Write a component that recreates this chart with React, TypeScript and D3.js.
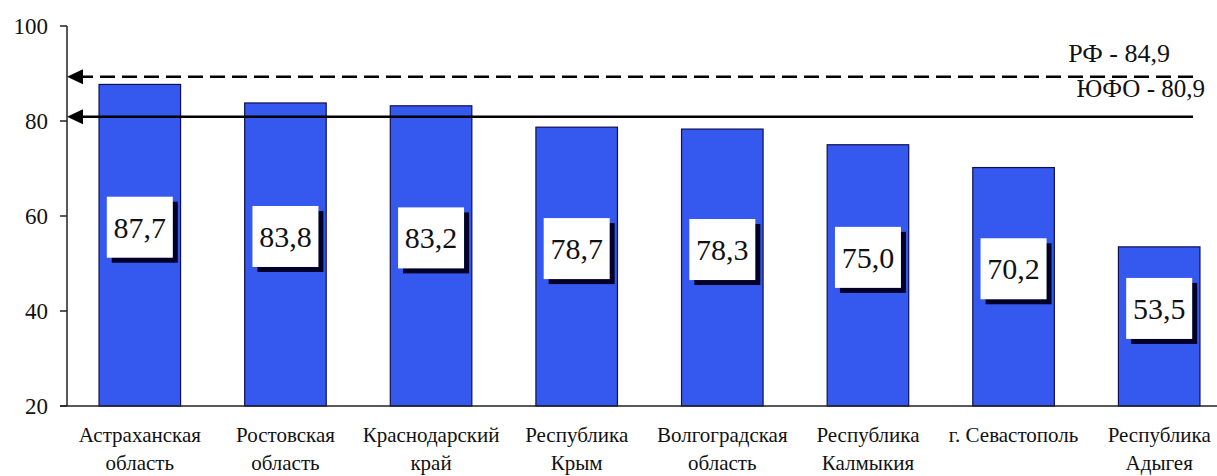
import * as d3 from "d3";

// регионы ЮФО
const regions = [
  ["Астраханская", "область"],
  ["Ростовская", "область"],
  ["Краснодарский", "край"],
  ["Республика", "Крым"],
  ["Волгоградская", "область"],
  ["Республика", "Калмыкия"],
  ["г. Севастополь", ""],
  ["Республика", "Адыгея"],
];
const values = [87.7, 83.8, 83.2, 78.7, 78.3, 75.0, 70.2, 53.5];
const yTicks = [20, 40, 60, 80, 100];

// опорные линии: подпись и уровень, на котором линия нарисована
const refNames = ["РФ", "ЮФО"];
const refValues = [84.9, 80.9];
const refLevels = [89.3, 80.9];

const W = 1217;
const H = 476;
const FONT = "'Liberation Serif', 'DejaVu Serif', 'Times New Roman', Times, serif";

const App = () => {
  const keys = regions.map((r) => r.join(" "));
  const x = d3.scaleBand<string>().domain(keys).range([67, 1232]).paddingInner(0.44).paddingOuter(0.22);
  const y = d3.scaleLinear().domain([20, 100]).range([406, 26]);
  const fmt = (v: number) => v.toFixed(1).replace(".", ",");

  const boxW = 66;
  const boxH = 61;

  return (
    <svg width={W} height={H} style={{ position: "absolute", left: 0, top: 0, background: "#fff" }}>
      <style>{`text { font-family: ${FONT}; }`}</style>
      {/* столбцы */}
      {values.map((v, i) => (
        <rect
          key={keys[i]}
          x={x(keys[i])!}
          y={y(v)}
          width={x.bandwidth()}
          height={y(20) - y(v)}
          fill="#3558ee"
          stroke="#101050"
          strokeWidth={1.2}
        />
      ))}

      {/* оси */}
      <line x1={67} x2={67} y1={y(100)} y2={y(20)} stroke="#222" strokeWidth={1.5} />
      <line x1={60} x2={W} y1={y(20)} y2={y(20)} stroke="#222" strokeWidth={1.5} />
      {yTicks.map((t) => (
        <g key={t}>
          <line x1={60} x2={67} y1={y(t)} y2={y(t)} stroke="#222" strokeWidth={1.5} />
          <text x={48} y={y(t)} dy="0.35em" textAnchor="end" fontSize={23} fill="#111">
            {t}
          </text>
        </g>
      ))}

      {/* опорные линии со стрелкой к оси */}
      {refLevels.map((lv, i) => (
        <g key={refNames[i]}>
          <line
            x1={78}
            x2={1193}
            y1={y(lv)}
            y2={y(lv)}
            stroke="#000"
            strokeWidth={2.5}
            strokeDasharray={i === 0 ? "15 7" : undefined}
          />
          <path d={`M67,${y(lv)} L83,${y(lv) - 7.5} L83,${y(lv) + 7.5} Z`} fill="#000" />
        </g>
      ))}
      <text x={1170} y={y(refLevels[0]) - 15} textAnchor="end" fontSize={26} fill="#111">
        {`${refNames[0]} - ${fmt(refValues[0])}`}
      </text>
      <text x={1205} y={y(refLevels[1]) - 20} textAnchor="end" fontSize={25} fill="#111">
        {`${refNames[1]} - ${fmt(refValues[1])}`}
      </text>

      {/* подписи значений */}
      {values.map((v, i) => {
        const cx = x(keys[i])! + x.bandwidth() / 2;
        const cy = (y(v) + y(20)) / 2 - 18;
        return (
          <g key={"lbl" + i} transform={`translate(${cx - boxW / 2},${cy - boxH / 2})`}>
            <rect x={5} y={5} width={boxW} height={boxH} fill="#000028" />
            <rect width={boxW} height={boxH} fill="#fff" />
            <text x={boxW / 2} y={boxH / 2} dy="0.35em" textAnchor="middle" fontSize={30} fill="#111">
              {fmt(v)}
            </text>
          </g>
        );
      })}

      {/* подписи категорий */}
      {regions.map((r, i) => {
        const cx = x(keys[i])! + x.bandwidth() / 2;
        return (
          <text key={"x" + i} textAnchor="middle" fontSize={21} fill="#111">
            <tspan x={cx} y={442}>{r[0]}</tspan>
            <tspan x={cx} y={470}>{r[1]}</tspan>
          </text>
        );
      })}
    </svg>
  );
};

export default App;
